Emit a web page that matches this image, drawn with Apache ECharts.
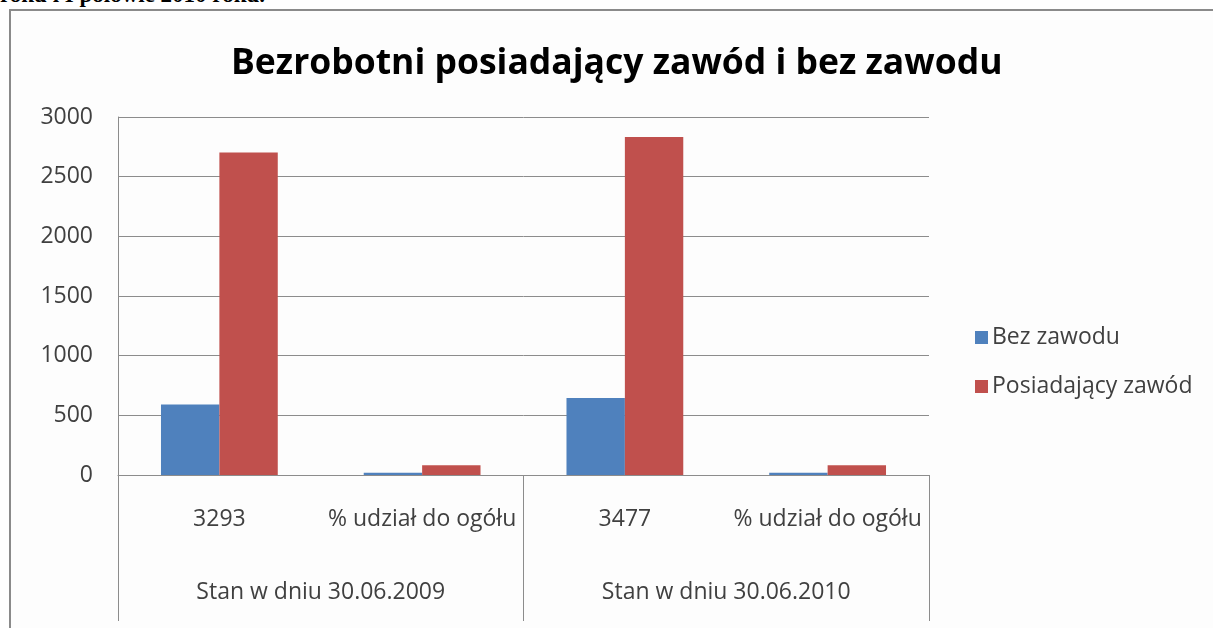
<!DOCTYPE html>
<html>
<head>
<meta charset="utf-8">
<script src="https://cdn.jsdelivr.net/npm/echarts@6/dist/echarts.min.js"></script>
<style>
  html, body { margin: 0; padding: 0; background: #fff; overflow: hidden; }
  #above {
    position: absolute; left: 0; top: -18px;
    font: bold 23px "Liberation Serif", serif; color: #000; white-space: nowrap;
  }
  #frame {
    position: absolute; left: 9px; top: 9px; width: 1300px; height: 700px;
    border-left: 2px solid #8a8a8a; border-top: 2px solid #8a8a8a; background: #fdfdfd;
  }
  #chart { position: absolute; left: 0; top: 0; width: 1213px; height: 628px; }
</style>
</head>
<body>
<div id="above">roku i I połowie 2010 roku.</div>
<div id="frame"></div>
<div id="chart"></div>
<script>
// kategorie osi X (dwa poziomy)
const categories = ['3293', '% udział do ogółu', '3477', '% udział do ogółu'];
const groups = ['Stan w dniu 30.06.2009', 'Stan w dniu 30.06.2010'];
// serie
const bezZawodu = [590, 17.9, 645, 18.6];
const posiadajacyZawod = [2703, 82.1, 2832, 81.4];
const seriesNames = ['Bez zawodu', 'Posiadający zawód'];
const colors = ['#4f81bd', '#c0504d'];

const font = '"Open Sans", "Noto Sans", sans-serif';
const labelColor = '#404040';
const lineColor = '#8c8c8c';
const fs = 23;

const chart = echarts.init(document.getElementById('chart'));

const option = {
  backgroundColor: 'transparent',
  title: {
    text: 'Bezrobotni posiadający zawód i bez zawodu',
    left: 226,
    top: 41,
    textStyle: { fontFamily: font, fontSize: 35.5, fontWeight: 'bold', color: '#000' }
  },
  legend: {
    orient: 'vertical',
    left: 975,
    top: 326,
    padding: 0,
    itemWidth: 13,
    itemHeight: 13,
    itemGap: 26,
    icon: 'rect',
    textStyle: { fontFamily: font, fontSize: fs, color: labelColor, padding: [0, 0, 0, -1] },
    data: seriesNames
  },
  grid: { left: 118, right: 284, top: 117, bottom: 153 },
  xAxis: [
    {
      type: 'category',
      data: categories,
      axisLine: { show: true, lineStyle: { color: lineColor, width: 1 } },
      axisTick: { show: false },
      axisLabel: { interval: 0, margin: 33, fontFamily: font, fontSize: fs, color: labelColor }
    },
    {
      type: 'category',
      data: groups,
      position: 'bottom',
      axisLine: { show: false },
      axisTick: { show: true, length: 146, interval: 0, lineStyle: { color: lineColor, width: 1 } },
      axisLabel: { interval: 0, margin: 106, fontFamily: font, fontSize: fs, color: labelColor },
      splitLine: { show: false }
    }
  ],
  yAxis: {
    type: 'value',
    min: 0,
    max: 3000,
    interval: 500,
    axisLine: { show: true, lineStyle: { color: lineColor, width: 1 } },
    axisTick: { show: false },
    axisLabel: { margin: 25, fontFamily: font, fontSize: fs, color: labelColor, formatter: v => String(v) },
    splitLine: { lineStyle: { color: lineColor, width: 1 } }
  },
  series: [
    {
      name: seriesNames[0],
      type: 'bar',
      data: bezZawodu,
      barWidth: '28.8%',
      barGap: '0%',
      itemStyle: { color: colors[0] }
    },
    {
      name: seriesNames[1],
      type: 'bar',
      data: posiadajacyZawod,
      barWidth: '28.8%',
      barGap: '0%',
      itemStyle: { color: colors[1] }
    }
  ]
};

chart.setOption(option);
</script>
</body>
</html>
